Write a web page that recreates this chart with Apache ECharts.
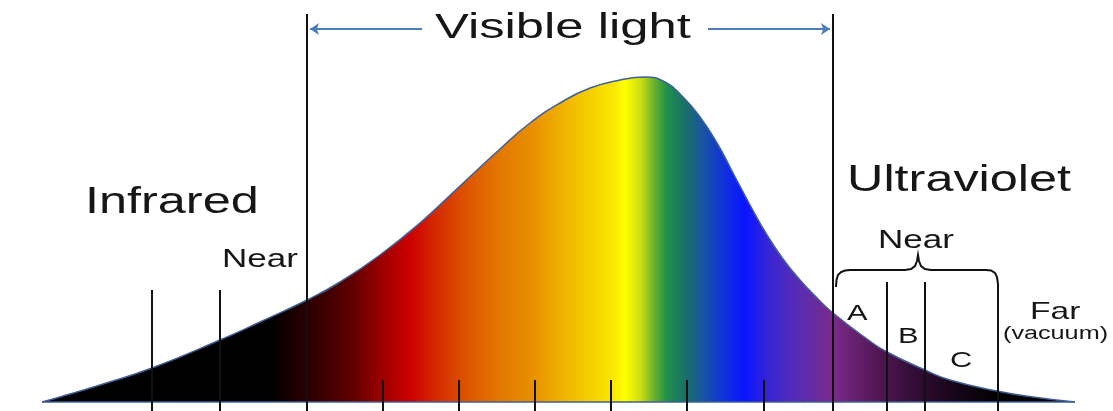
<!DOCTYPE html>
<html>
<head>
<meta charset="utf-8">
<title>Spectrum</title>
<script src="https://cdn.jsdelivr.net/npm/echarts@6/dist/echarts.min.js"></script>
<style>
  html, body { margin: 0; padding: 0; background: #fff; }
  #chart { width: 1113px; height: 411px; }
</style>
</head>
<body>
<div id="chart"></div>
<script>
// curve of the spectrum (position, relative intensity)
var curveX = [42, 60, 100, 152, 220, 260, 307, 340, 380, 420, 460, 500, 530, 560, 590, 620, 645, 665, 683, 700, 717, 733, 750, 767, 783, 800, 817, 833, 867, 887, 925, 950, 997, 1033, 1075];
var curveY = [0, 5, 17, 34, 62, 80, 102, 120, 147, 179, 216, 253, 279, 299, 314, 322, 325, 320, 305, 285, 259, 229, 197, 167, 143, 122, 104, 89, 63, 50, 32, 22, 11, 5, 0];

// colour of the band at each position
var bandX = [42, 270, 307, 350, 383, 410, 440, 470, 500, 535, 560, 590, 612, 625, 640, 655, 667, 685, 705, 725, 745, 770, 800, 833, 870, 910, 955, 1000, 1075];
var bandColor = ['#000000', '#000000', '#2a0000', '#5c0000', '#a00000', '#cc0000', '#d63000', '#de5800', '#e27800', '#e89200', '#efb000', '#f5cf00', '#fae600', '#ffff00', '#cfe014', '#62b030', '#1f8f4c', '#1a7068', '#1850a8', '#1030e0', '#0a14ff', '#3a26d0', '#5a2cb0', '#7a2a8a', '#581a5c', '#360e38', '#160618', '#000000', '#000000'];

// dividers: position and top of each line
var longLines = [307, 833];
var irLines = [152, 220];
var tickLines = [383, 459, 535, 611, 687, 764];
var uvLines = [887, 925];

var floorY = -9;
var stops = [];
for (var i = 0; i < bandX.length; i++) {
  stops.push({ offset: (bandX[i] - curveX[0]) / (curveX[curveX.length - 1] - curveX[0]), color: bandColor[i] });
}

function vLines(xs, top) {
  return xs.map(function (x) { return { coords: [[x, top], [x, floorY]] }; });
}

var dividers = []
  .concat(vLines(longLines, 388))
  .concat(vLines(irLines, 112))
  .concat(vLines(tickLines, 22))
  .concat(vLines(uvLines, 120));

// curly bracket over the near UV bands
var bracketX = [836, 836.5, 838, 841, 845, 850, 905, 911, 915, 917, 918, 919, 921, 925, 931, 986, 991, 995, 997, 998, 998];
var bracketY = [115, 122, 127, 130, 131.5, 132, 132, 133, 136, 141, 147, 141, 136, 133, 132, 132, 131.5, 129, 125, 118, floorY];
var bracket = bracketX.map(function (x, i) { return [x, bracketY[i]]; });

var font = "'Liberation Sans', Arial, sans-serif";
function label(text, x, y, size, sx) {
  return {
    type: 'text', x: x, y: y, scaleX: sx || 1.4, z: 10,
    style: { text: text, fontSize: size, fontFamily: font, fill: '#161616', align: 'left', verticalAlign: 'middle' }
  };
}

var chart = echarts.init(document.getElementById('chart'));
chart.setOption({
  animation: false,
  grid: { left: 0, right: 0, top: 0, bottom: 0 },
  xAxis: { type: 'value', min: 0, max: 1113, show: false },
  yAxis: { type: 'value', min: floorY, max: 402, show: false },
  series: [
    {
      type: 'line',
      data: curveX.map(function (x, i) { return [x, curveY[i]]; }),
      smooth: 0.5,
      symbol: 'none',
      lineStyle: { color: '#3f5f96', width: 1.5 },
      areaStyle: { opacity: 1, color: new echarts.graphic.LinearGradient(0, 0, 1, 0, stops) },
      z: 1
    },
    {
      type: 'line',
      data: [[curveX[0], 0], [curveX[curveX.length - 1], 0]],
      symbol: 'none',
      lineStyle: { color: '#3f5f96', width: 1.5 },
      z: 2
    },
    {
      type: 'lines',
      coordinateSystem: 'cartesian2d',
      data: dividers,
      lineStyle: { color: '#111', width: 2, opacity: 1 },
      z: 3
    },
    {
      type: 'lines',
      coordinateSystem: 'cartesian2d',
      polyline: true,
      data: [{ coords: bracket }],
      lineStyle: { color: '#111', width: 2, opacity: 1 },
      z: 3
    },
    {
      type: 'lines',
      coordinateSystem: 'cartesian2d',
      symbol: ['none', 'arrow'],
      symbolSize: 9,
      data: [
        { coords: [[422, 373], [310, 373]] },
        { coords: [[708, 373], [830, 373]] }
      ],
      lineStyle: { color: '#4a7dba', width: 2, opacity: 1 },
      z: 4
    }
  ],
  graphic: [
    label('Visible light', 435, 28, 35, 1.45),
    label('Infrared', 85, 203, 36),
    label('Near', 222, 260, 25),
    label('Ultraviolet', 847, 181, 36),
    label('Near', 878, 241, 25),
    label('A', 847, 314, 22),
    label('B', 898, 337, 22),
    label('C', 950, 361, 22),
    label('Far', 1030, 312, 24),
    label('(vacuum)', 1003, 334, 18)
  ]
});
</script>
</body>
</html>
